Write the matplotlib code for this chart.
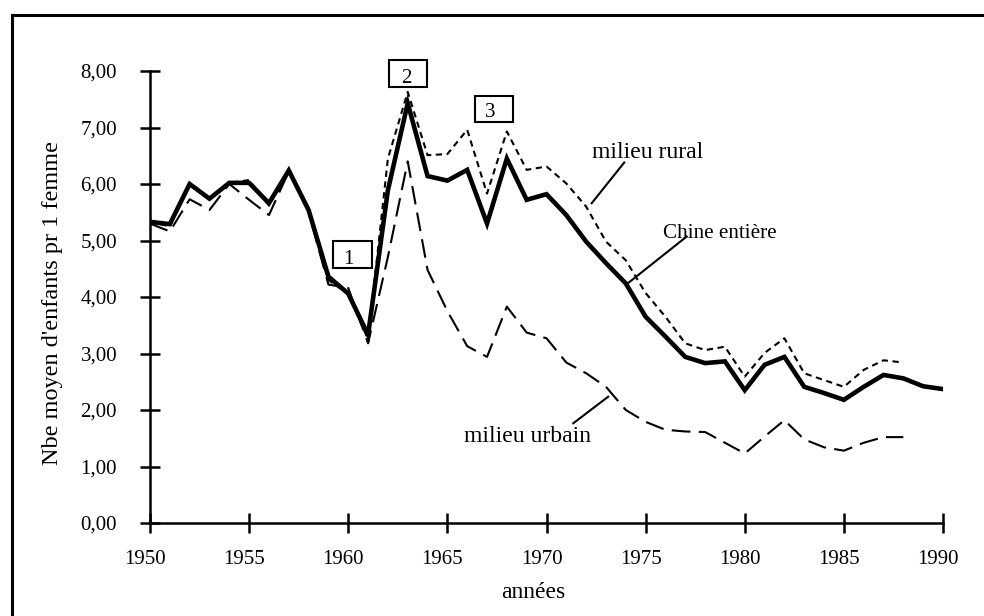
import matplotlib
matplotlib.use("Agg")
import matplotlib.pyplot as plt
import matplotlib.transforms as mtransforms
from matplotlib.lines import Line2D
from matplotlib.patches import Rectangle

plt.rcParams['font.family'] = ['Liberation Serif', 'DejaVu Serif']

years = list(range(1950, 1991))
chine = [5.33, 5.29, 6.00, 5.74, 6.02, 6.02, 5.66, 6.24, 5.54, 4.36, 4.06,
         3.33, 5.89, 7.43, 6.14, 6.06, 6.25, 5.30, 6.45, 5.72, 5.82,
         5.45, 4.98, 4.60, 4.24, 3.65, 3.30, 2.94, 2.83, 2.86, 2.35,
         2.80, 2.94, 2.41, 2.30, 2.18, 2.41, 2.62, 2.56, 2.42, 2.37]
rural_years = list(range(1950, 1989))
rural = [5.33, 5.25, 6.00, 5.75, 6.02, 6.07, 5.62, 6.24, 5.56, 4.30, 4.05,
         3.25, 6.45, 7.63, 6.51, 6.53, 6.96, 5.83, 6.93, 6.25, 6.31,
         6.01, 5.60, 4.98, 4.65, 4.07, 3.65, 3.18, 3.06, 3.12, 2.59,
         3.01, 3.27, 2.65, 2.53, 2.41, 2.71, 2.88, 2.84]
urbain_years = list(range(1950, 1989))
urbain = [5.30, 5.16, 5.73, 5.54, 6.00, 5.72, 5.45, 6.22, 5.50, 4.22, 4.16,
          3.18, 4.71, 6.40, 4.48, 3.75, 3.13, 2.94, 3.83, 3.37, 3.27,
          2.84, 2.65, 2.41, 2.00, 1.79, 1.65, 1.62, 1.61, 1.42, 1.23,
          1.53, 1.82, 1.48, 1.34, 1.28, 1.42, 1.52, 1.52]

yticks = [0, 1, 2, 3, 4, 5, 6, 7, 8]
ytick_labels = ["0,00", "1,00", "2,00", "3,00", "4,00", "5,00", "6,00", "7,00", "8,00"]
xticks = [1950, 1955, 1960, 1965, 1970, 1975, 1980, 1985, 1990]

fig = plt.figure(figsize=(9.84, 6.16), dpi=100)
ax = fig.add_axes([150/984, 1-523/616, 793/984, 452/616])

ax.plot(rural_years, rural, color='black', lw=1.5, dashes=(3, 2.2))
ax.plot(urbain_years, urbain, color='black', lw=1.5, dashes=(9, 4))
ax.plot(years, chine, color='black', lw=3.3, solid_joinstyle='miter')

ax.set_xlim(1950, 1990)
ax.set_ylim(0, 8)
ax.set_xticks(xticks)
ax.set_xticklabels([str(x) for x in xticks])
ax.set_yticks(yticks)
ax.set_yticklabels(ytick_labels)
for s in ['top', 'right']:
    ax.spines[s].set_visible(False)
for s in ['left', 'bottom']:
    ax.spines[s].set_linewidth(1.8)
ax.tick_params(direction='inout', length=14.4, width=1.8, labelsize=15,
               colors='black')
ax.tick_params(axis='y', pad=16.5)
ax.tick_params(axis='x', pad=12.5)
off = mtransforms.ScaledTranslation(-5/100, 0, fig.dpi_scale_trans)
for lab in ax.get_xticklabels():
    lab.set_transform(lab.get_transform() + off)

ax.set_ylabel("Nbe moyen d'enfants pr 1 femme", fontsize=17.5)
ax.yaxis.set_label_coords((63.3-150)/793, (523-303)/452)
ax.set_xlabel("années", fontsize=17)
ax.xaxis.set_label_coords((533-150)/793, (523-582)/452)

# annotations
ax.text(1975.09, 6.454, "milieu rural", fontsize=17, ha='center', va='baseline')
ax.plot([1972.28, 1973.92], [5.66, 6.38], color='black', lw=1.5)
ax.text(1978.75, 5.05, "Chine entière", fontsize=15.2, ha='center', va='baseline')
ax.plot([1974.13, 1977.07], [4.25, 5.07], color='black', lw=1.5)
ax.text(1969.06, 1.428, "milieu urbain", fontsize=17, ha='center', va='baseline')
ax.plot([1971.35, 1973.11], [1.765, 2.235], color='black', lw=1.5)

boxes = [("1", 1959.25, 4.51, 1.94, 0.49, 1959.99, 4.584),
         ("2", 1962.06, 7.72, 1.92, 0.47, 1962.94, 7.78),
         ("3", 1966.39, 7.10, 1.93, 0.45, 1967.15, 7.18)]
for lab, bx, by, bw, bh, tx, ty in boxes:
    ax.add_patch(Rectangle((bx, by), bw, bh, fill=True, facecolor='white',
                           edgecolor='black', lw=1.5, clip_on=False, zorder=5))
    ax.text(tx, ty, lab, fontsize=15, ha='center', va='baseline', zorder=6,
            clip_on=False)

# outer frame (left and top edges visible)
fig.add_artist(Line2D([12/984, 12/984], [0, 1-14.5/616], transform=fig.transFigure,
                      color='black', lw=2.2))
fig.add_artist(Line2D([12/984, 1], [1-14.5/616, 1-14.5/616], transform=fig.transFigure,
                      color='black', lw=2.2))

fig.savefig("out.png", dpi=100)
